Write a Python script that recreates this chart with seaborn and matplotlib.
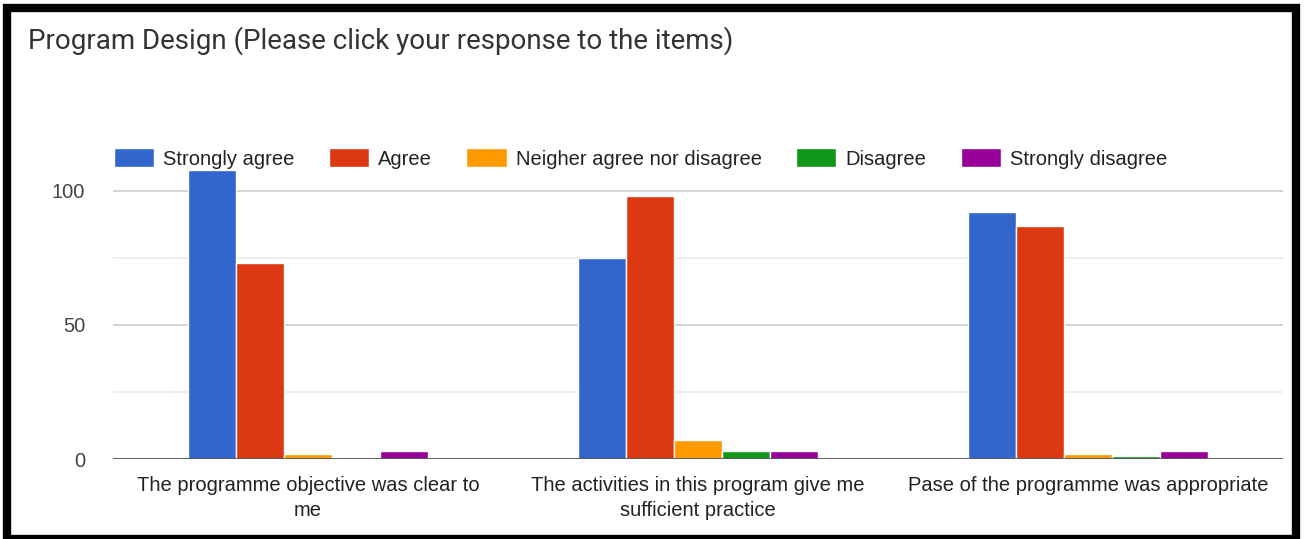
import matplotlib
matplotlib.use("Agg")
import matplotlib.pyplot as plt
import seaborn as sns
import pandas as pd
from matplotlib.patches import Rectangle

# values
items = [
    "The programme objective was clear to\nme",
    "The activities in this program give me\nsufficient practice",
    "Pase of the programme was appropriate",
]
responses = ["Strongly agree", "Agree", "Neigher agree nor disagree", "Disagree", "Strongly disagree"]
strongly_agree = [108, 75, 92]
agree = [73, 98, 87]
neutral = [2, 7, 2]
disagree = [0, 3, 1]
strongly_disagree = [3, 3, 3]
colors = ["#3366cc", "#dc3912", "#ff9900", "#109618", "#990099"]

counts = [strongly_agree, agree, neutral, disagree, strongly_disagree]
rows = []
for resp, vals in zip(responses, counts):
    for item, v in zip(items, vals):
        rows.append({"item": item, "response": resp, "count": v})
df = pd.DataFrame(rows)

sns.set_theme(style="white")
plt.rcParams['font.family'] = ['Liberation Sans', 'DejaVu Sans']

fig = plt.figure(figsize=(13.04, 5.39), dpi=100)
ax = fig.add_axes([0.0867, 0.1484, 0.897, 0.547])

sns.barplot(data=df, x="item", y="count", hue="response", order=items,
            hue_order=responses, palette=colors, width=0.615,
            edgecolor="white", linewidth=1, saturation=1, ax=ax)

ax.set_ylim(0, 110)
ax.set_yticks([0, 50, 100])
ax.set_yticks([25, 75], minor=True)
ax.grid(axis="y", which="major", color="#cccccc", linewidth=1.2)
ax.grid(axis="y", which="minor", color="#ebebeb", linewidth=1.2)
ax.set_axisbelow(True)
ax.axhline(0, color="#555555", linewidth=2, zorder=5)
for s in ax.spines.values():
    s.set_visible(False)
ax.tick_params(axis="both", which="both", length=0)
ax.tick_params(axis="y", labelsize=14.5, labelcolor="#444444", pad=20)
ax.tick_params(axis="x", labelsize=14.5, labelcolor="#222222", pad=12)
for lab in ax.get_xticklabels():
    lab.set_linespacing(1.45)
ax.set_xlabel("")
ax.set_ylabel("")

ax.legend(loc="center left", bbox_to_anchor=(-0.006, 1.02), ncol=5, frameon=False,
          fontsize=14.5, handlelength=2.0, handleheight=1.1, columnspacing=1.7,
          handletextpad=0.45, borderaxespad=0, labelcolor="#222222")

fig.text(0.0215, 0.925, "Program Design (Please click your response to the items)",
         fontsize=20, color="#333333", family=["Roboto", "DejaVu Sans"], va="center")

# black frame around the screenshot
fig.patches.append(Rectangle((7 / 1304, 0.0), 1289 / 1304, 1 - 8 / 539, transform=fig.transFigure,
                             fill=False, edgecolor="black", linewidth=6, zorder=10))

fig.savefig("out.png", dpi=100, facecolor="white")
